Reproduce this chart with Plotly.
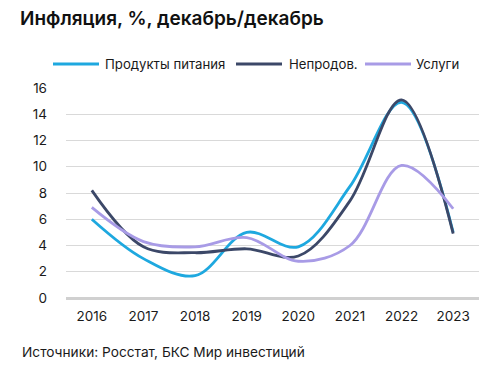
import plotly.graph_objects as go

years = ["2016", "2017", "2018", "2019", "2020", "2021", "2022", "2023"]
food = [6.0, 3.0, 1.7, 5.0, 3.9, 8.5, 14.9, 5.0]
nonfood = [8.2, 3.9, 3.45, 3.75, 3.2, 7.4, 15.1, 4.9]
services = [6.9, 4.3, 3.9, 4.6, 2.8, 4.0, 10.1, 6.8]
yticks = [0, 2, 4, 6, 8, 10, 12, 14, 16]

series = [
    ("Продукты питания", food, "#1ea8df"),
    ("Непродов.", nonfood, "#3c4868"),
    ("Услуги", services, "#a89be6"),
]

fig = go.Figure()
for name, vals, color in series:
    fig.add_trace(go.Scatter(
        x=years, y=vals, name=name, mode="lines",
        line=dict(color=color, width=2.8, shape="spline", smoothing=1.0),
    ))

# page has an 8px body margin: work in figure coords = reference - 8
OFF = 8
W, H = 489 - OFF, 374 - OFF
PL, PR, PT, PB = 66, 479, 88, 298  # plot area in reference pixels
L, T = PL - OFF, PT - OFF
R = W - (PR - OFF)
B = H - (PB - OFF)
plot_h = PB - PT
plot_w = PR - PL


def px(x):
    return (x - PL) / plot_w


def py(y):
    return (PB - y) / plot_h


font_family = "Inter, Roboto, Arial, sans-serif"

# custom legend (lines 46px long like the reference)
legend_items = [(53, 99, 103), (236, 282, 287), (365, 411, 414)]
LEG_Y = 64
shapes = []
annotations = []
for (name, _, color), (x0, x1, xt) in zip(series, legend_items):
    shapes.append(dict(type="line", xref="paper", yref="paper",
                       x0=px(x0), x1=px(x1), y0=py(LEG_Y), y1=py(LEG_Y),
                       line=dict(color=color, width=3)))
    annotations.append(dict(text=name, x=px(xt), y=py(LEG_Y), xref="paper",
                            yref="paper", xanchor="left", yanchor="middle",
                            showarrow=False,
                            font=dict(size=13.2, color="#1a1a1a")))

annotations.append(dict(text="Источники: Росстат, БКС Мир инвестиций",
                        x=px(20), y=py(352), xref="paper", yref="paper",
                        xanchor="left", yanchor="middle", showarrow=False,
                        font=dict(size=13.7, color="#1a1a1a")))

fig.update_layout(
    width=W, height=H,
    margin=dict(l=L, r=R, t=T, b=B, autoexpand=False),
    paper_bgcolor="white", plot_bgcolor="white",
    font=dict(family=font_family, size=13, color="#1a1a1a"),
    title=dict(text="Инфляция, %, декабрь/декабрь", x=(20 - OFF)/W, xanchor="left",
               y=1 - (18 - OFF)/H, yanchor="middle", pad=dict(l=0, r=0, t=0, b=0),
               font=dict(size=19, color="#111111", family=font_family,
                         weight=600)),
    showlegend=False,
    xaxis=dict(type="category", range=[-0.5, 7.5], showgrid=False,
               showline=False, ticks="", tickfont=dict(size=13.5),
               ticklabelstandoff=8),
    yaxis=dict(range=[0, 16], tickvals=yticks, showgrid=True,
               gridcolor="#d9d9d9", gridwidth=1, zeroline=True,
               zerolinecolor="#d0d0d0", zerolinewidth=3, ticks="",
               ticklabelstandoff=18, tickfont=dict(size=13.5)),
    shapes=shapes,
    annotations=annotations,
)

fig.write_html("out.html")
